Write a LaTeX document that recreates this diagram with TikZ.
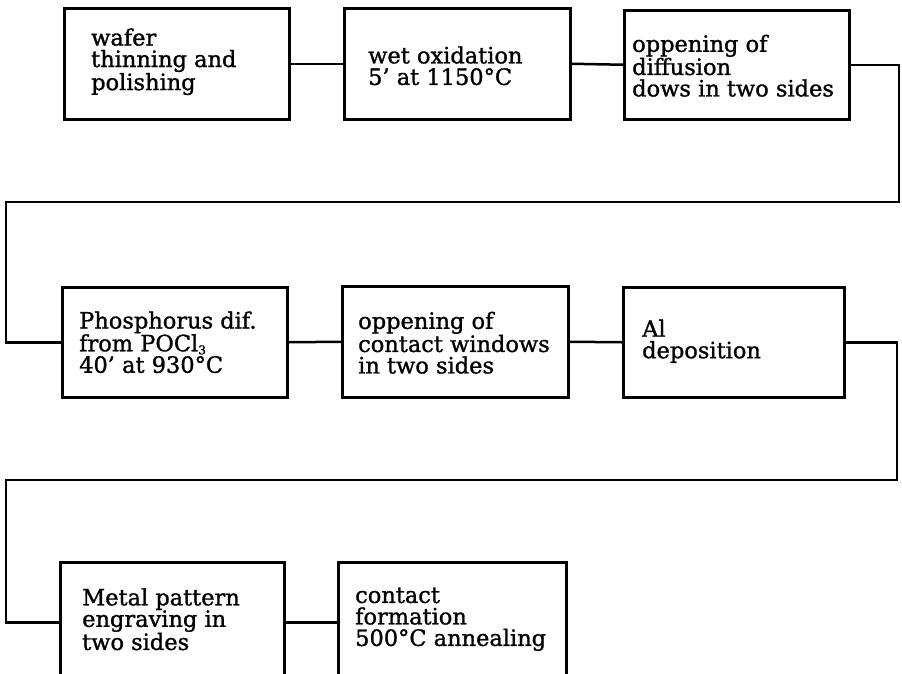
\documentclass[tikz,border=0pt]{standalone}
\usepackage{fontspec}
\setmainfont{DejaVu Serif}[FakeBold=1.2]
\begin{document}
\begin{tikzpicture}[x=1pt,y=-1pt,
  box/.style={draw, line width=2.5pt, rectangle, anchor=north west, inner sep=0pt},
  txt/.style={anchor=west, align=left, inner sep=0pt, font=\fontsize{22.5}{21.5}\selectfont},
  link/.style={line width=2.5pt}]
\path[use as bounding box] (0,0) rectangle (902,673);
\clip (0,0) rectangle (902,673);
% row 1
\node[box, minimum width=225pt, minimum height=111pt] (b1) at (63,7) {};
\node[box, minimum width=226pt, minimum height=111pt] (b2) at (343,7) {};
\node[box, minimum width=225pt, minimum height=109pt] (b3) at (623,9) {};
% row 2
\node[box, minimum width=225pt, minimum height=110pt] (b4) at (61,286) {};
\node[box, minimum width=226pt, minimum height=111pt] (b5) at (341,285) {};
\node[box, minimum width=221pt, minimum height=110pt] (b6) at (622,286) {};
% row 3 (cut off by the bottom edge)
\node[box, minimum width=224pt, minimum height=120pt] (b7) at (59,561) {};
\node[box, minimum width=228pt, minimum height=120pt] (b8) at (337,561) {};
% texts
\node[txt] (t1) at ([xshift=28pt,yshift=2pt]b1.west) {wafer\\thinning and\\polishing};
\node[txt] (t2) at ([xshift=25pt,yshift=-2pt]b2.west) {wet oxidation\\5' at 1150°C};
\node[txt] (t3) at ([xshift=9pt,yshift=-1pt]b3.west) {oppening of\\diffusion\\dows in two sides};
\node[txt] (t4) at ([xshift=18pt]b4.west) {Phosphorus dif.\\from POCl\smash{\raisebox{-3pt}{\fontsize{12}{12}\selectfont 3}}\\40' at 930°C};
\node[txt] (t5) at ([xshift=17pt,yshift=-1pt]b5.west) {oppening of\\contact windows\\in two sides};
\node[txt] (t6) at ([xshift=20pt,yshift=1pt]b6.west) {Al\\deposition};
\node[txt] (t7) at ([xshift=23pt,yshift=3pt]b7.west) {Metal pattern\\engraving in\\two sides};
\node[txt] (t8) at ([xshift=18pt,yshift=3pt]b8.west) {contact\\formation\\500°C annealing};
% connectors
\coordinate (r1) at (899,202);
\coordinate (l1) at (6,202);
\coordinate (r2) at (897,480);
\coordinate (l2) at (6,480);
\draw[link] (b1.east) -- (b2.west);
\draw[link] (b2.east) -- (b3.west);
\draw[link] (b3.east) -| (r1) -- (l1) |- (b4.west);
\draw[link] (b4.east) -- (b5.west);
\draw[link] (b5.east) -- (b6.west);
\draw[link] (b6.east) -| (r2) -- (l2) |- (b7.west);
\draw[link] (b7.east) -- (b8.west);
\end{tikzpicture}
\end{document}
